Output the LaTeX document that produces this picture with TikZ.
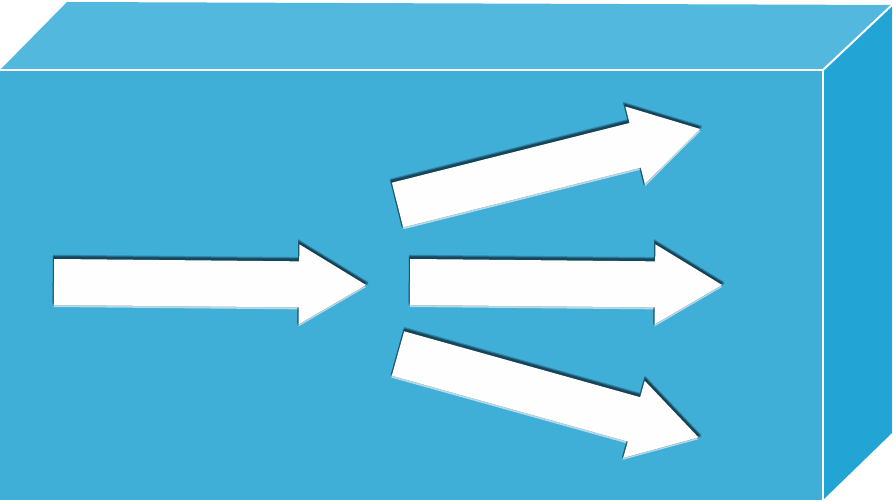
\documentclass[tikz,border=0pt]{standalone}
\usepackage{xcolor}
\usepackage{tikz}
\usetikzlibrary{calc}

\definecolor{frontblue}{HTML}{40AFD8}
\definecolor{topblue}{HTML}{52B8DE}
\definecolor{sideblue}{HTML}{22A4D5}
\definecolor{shadowink}{HTML}{0B2A3A}
\definecolor{glowgray}{HTML}{D4E6EC}

% outline of one white flow arrow, tail centre at (0,0)
\def\flowshape{(0,-23) -- (245,-23) -- (245,-40) -- (312,0) -- (245,40) -- (245,23) -- (0,23) -- cycle}

\begin{document}
\begin{tikzpicture}[
    x=0.02cm, y=-0.02cm,
    edge/.style={draw=white, line width=0.04cm},
    darkshade/.style={fill=shadowink, draw=shadowink, line width=0.05cm, opacity=0.3},
    lightshade/.style={fill=glowgray, opacity=0.8},
    flow/.style={fill=white!99!gray}
]
    \useasboundingbox (0,0) rectangle (893,502);

    % box faces
    \fill[topblue] (0,70) -- (67,2) -- (892,5) -- (823,70) -- cycle;
    \fill[sideblue] (823,70) -- (892,5) -- (892,433) -- (823,500) -- cycle;
    \fill[frontblue] (0,70) rectangle (823,500);
    \draw[edge] (0,70) -- (823,70) -- (823,500);
    \draw[edge] (823,70) -- (892,5);

    % arrows: tail x / tail y / angle
    \foreach \px/\py/\ang in {54/282/-0.55, 410/282/-0.55, 397.5/205/14.1, 398/353.5/-15.6} {
        \begin{scope}[shift={(\px,\py)}, rotate=\ang]
            \fill[lightshade, shift={(0,2)}] \flowshape;
            \foreach \off in {3,2,1}
                \filldraw[darkshade, shift={(0,-\off)}] \flowshape;
            \fill[flow] \flowshape;
        \end{scope}
    }

\end{tikzpicture}
\end{document}
